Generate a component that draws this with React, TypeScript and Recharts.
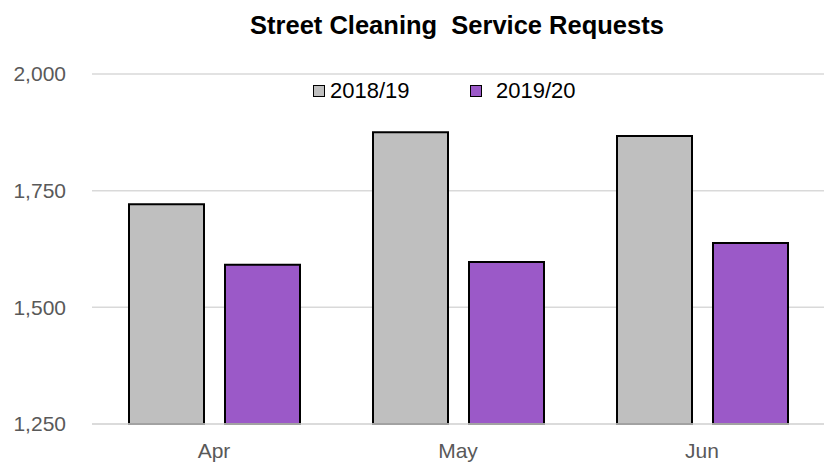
import { BarChart, Bar, XAxis, YAxis, CartesianGrid } from 'recharts';

const months = ['Apr', 'May', 'Jun'];
const requests1819 = [1721, 1875, 1867];
const requests1920 = [1591, 1597, 1638];
const yTicks = [1250, 1500, 1750, 2000];

const data = months.map((m, i) => ({ month: m, y1819: requests1819[i], y1920: requests1920[i] }));

const font = '"Liberation Sans", Arial, sans-serif';

const LegendBox = () => (
  <div style={{ position: 'absolute', left: 0, top: 78, width: 826, height: 28, fontFamily: font, fontSize: 22, color: '#000' }}>
    <div style={{ position: 'absolute', left: 313, top: 7, width: 10, height: 10, background: '#bfbfbf', border: '1.5px solid #000' }} />
    <span style={{ position: 'absolute', left: 330, top: 0 }}>2018/19</span>
    <div style={{ position: 'absolute', left: 470, top: 7, width: 10, height: 10, background: '#9b59c8', border: '1.5px solid #000' }} />
    <span style={{ position: 'absolute', left: 496, top: 0 }}>2019/20</span>
  </div>
);

export default function App() {
  return (
    <div style={{ position: 'absolute', left: 0, top: 0, width: 826, height: 466, background: '#fff' }}>
      <div style={{ position: 'absolute', top: 11, left: 0, width: 914, textAlign: 'center', fontFamily: font, fontWeight: 'bold', fontSize: 25.5, color: '#000' }}>
        Street Cleaning&nbsp; Service Requests
      </div>
      <BarChart
        width={826}
        height={466}
        data={data}
        margin={{ top: 74, right: 2, left: 0, bottom: 12 }}
        barCategoryGap={37}
        barGap={21}
      >
        <CartesianGrid vertical={false} stroke="#d9d9d9" strokeWidth={1.5} />
        <XAxis
          dataKey="month"
          height={30}
          axisLine={{ stroke: '#d9d9d9', strokeWidth: 1.5 }}
          tickLine={false}
          tickMargin={13}
          tick={{ fill: '#595959', fontSize: 21, fontFamily: font }}
        />
        <YAxis
          width={92}
          domain={[1250, 2000]}
          ticks={yTicks}
          axisLine={false}
          tickLine={false}
          tickSize={0}
          tickMargin={26}
          tickFormatter={(v: number) => v.toLocaleString('en-US')}
          tick={{ fill: '#595959', fontSize: 21, fontFamily: font }}
        />
        <Bar dataKey="y1819" name="2018/19" fill="#bfbfbf" stroke="#000" strokeWidth={2} isAnimationActive={false} />
        <Bar dataKey="y1920" name="2019/20" fill="#9b59c8" stroke="#000" strokeWidth={2} isAnimationActive={false} />
      </BarChart>
      <LegendBox />
    </div>
  );
}
